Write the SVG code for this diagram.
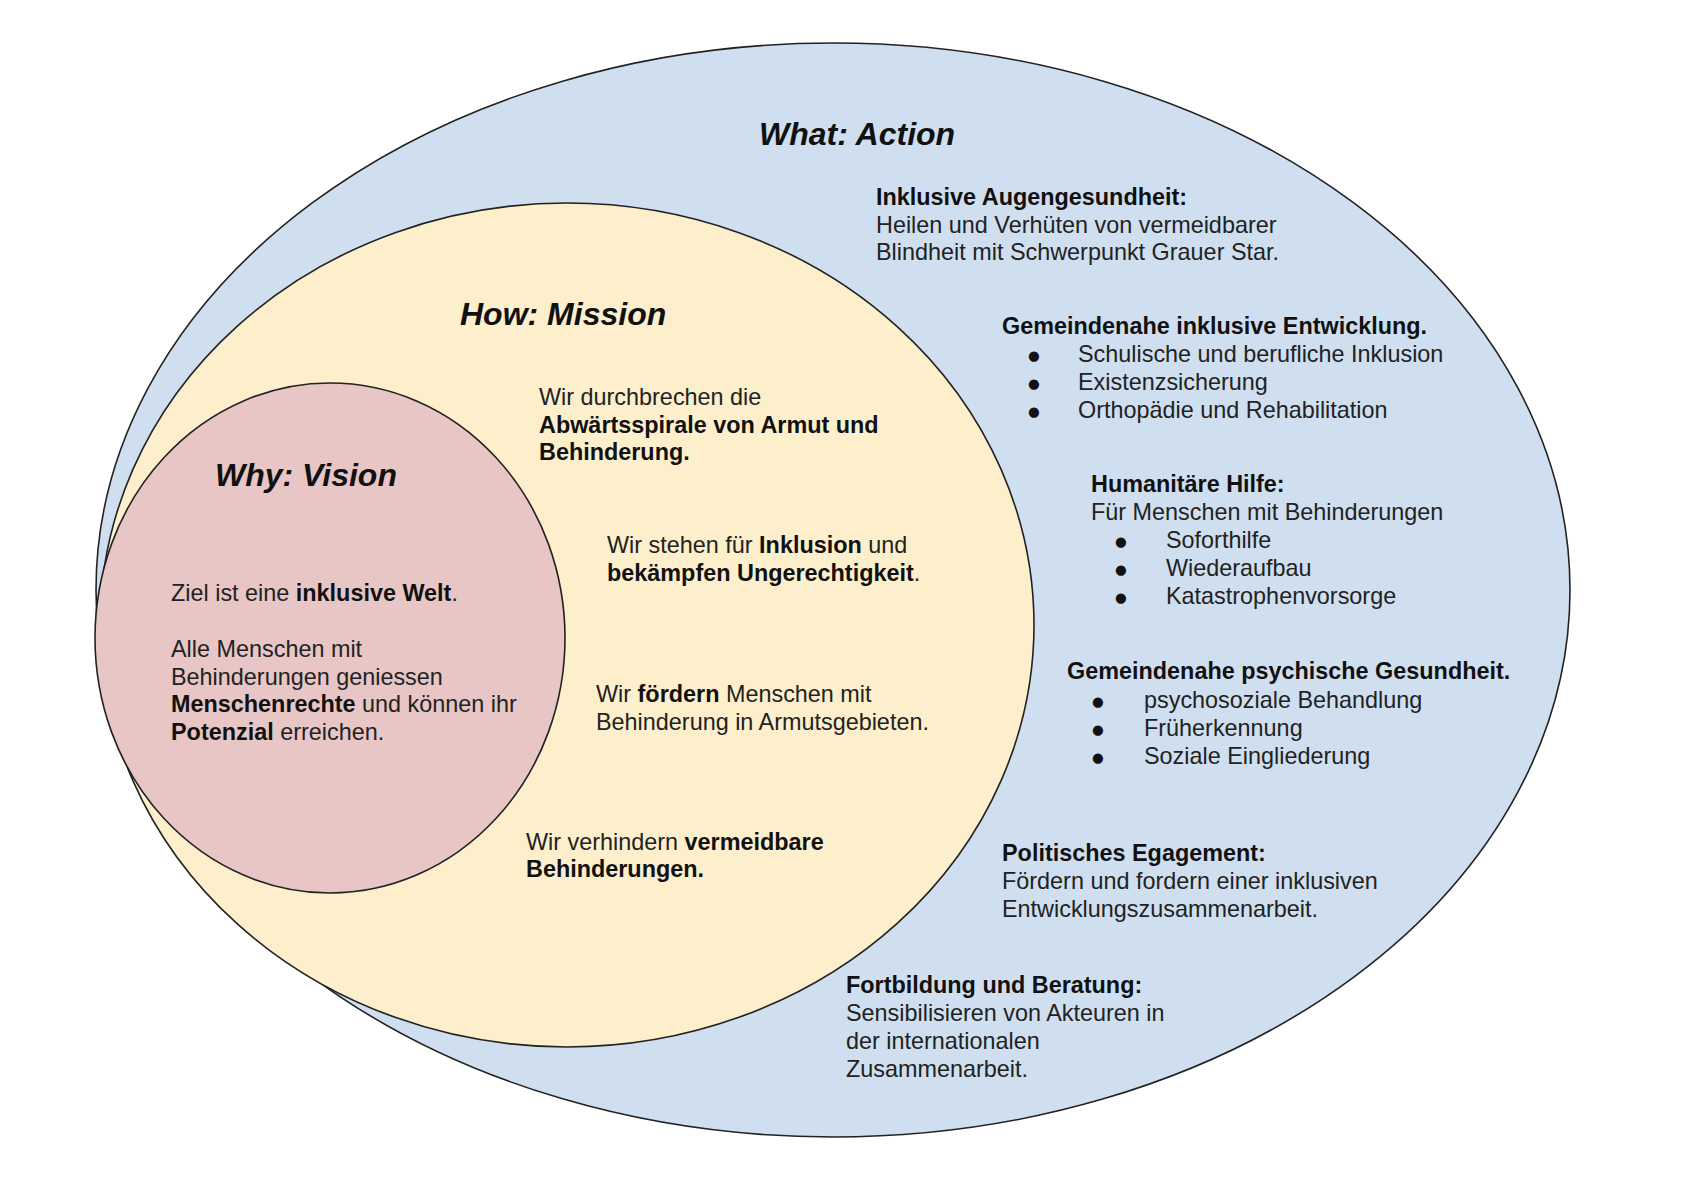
<svg xmlns="http://www.w3.org/2000/svg" width="1698" height="1194" viewBox="0 0 1698 1194">
<style>
  .shape { stroke: #222; stroke-width: 1.6; }
  .title { font-family: "Liberation Sans", Arial, sans-serif; font-size: 32px; font-weight: bold; font-style: italic; fill: #111; }
  .t { font-family: "Liberation Sans", Arial, sans-serif; font-size: 23.4px; fill: #222; }
  .b { font-weight: bold; fill: #111; }
  .bul { font-family: "DejaVu Sans", "Liberation Sans", sans-serif; font-size: 13.5px; fill: #111; text-anchor: middle; }
</style>
<rect x="0" y="0" width="1698" height="1194" fill="#ffffff"/>

<g id="what-action">
  <ellipse class="shape" cx="833" cy="590" rx="737" ry="547" fill="#cfdff0"/>
  <text class="title" x="759" y="145">What: Action</text>
  <text class="t">
    <tspan class="b" x="876" y="205">Inklusive Augengesundheit:</tspan>
    <tspan x="876" y="233">Heilen und Verhüten von vermeidbarer</tspan>
    <tspan x="876" y="260">Blindheit mit Schwerpunkt Grauer Star.</tspan>
  </text>
  <text class="t">
    <tspan class="b" x="1002" y="334">Gemeindenahe inklusive Entwicklung.</tspan>
    <tspan x="1078" y="362">Schulische und berufliche Inklusion</tspan>
    <tspan x="1078" y="390">Existenzsicherung</tspan>
    <tspan x="1078" y="418">Orthopädie und Rehabilitation</tspan>
  </text>
  <text class="bul"><tspan x="1034" y="360">●</tspan><tspan x="1034" y="388">●</tspan><tspan x="1034" y="416">●</tspan></text>
  <text class="t">
    <tspan class="b" x="1091" y="492">Humanitäre Hilfe:</tspan>
    <tspan x="1091" y="520">Für Menschen mit Behinderungen</tspan>
    <tspan x="1166" y="548">Soforthilfe</tspan>
    <tspan x="1166" y="576">Wiederaufbau</tspan>
    <tspan x="1166" y="604">Katastrophenvorsorge</tspan>
  </text>
  <text class="bul"><tspan x="1121" y="546">●</tspan><tspan x="1121" y="574">●</tspan><tspan x="1121" y="602">●</tspan></text>
  <text class="t">
    <tspan class="b" x="1067" y="679">Gemeindenahe psychische Gesundheit.</tspan>
    <tspan x="1144" y="708">psychosoziale Behandlung</tspan>
    <tspan x="1144" y="736">Früherkennung</tspan>
    <tspan x="1144" y="764">Soziale Eingliederung</tspan>
  </text>
  <text class="bul"><tspan x="1098" y="706">●</tspan><tspan x="1098" y="734">●</tspan><tspan x="1098" y="762">●</tspan></text>
  <text class="t">
    <tspan class="b" x="1002" y="861">Politisches Egagement:</tspan>
    <tspan x="1002" y="889">Fördern und fordern einer inklusiven</tspan>
    <tspan x="1002" y="917">Entwicklungszusammenarbeit.</tspan>
  </text>
  <text class="t">
    <tspan class="b" x="846" y="993">Fortbildung und Beratung:</tspan>
    <tspan x="846" y="1021">Sensibilisieren von Akteuren in</tspan>
    <tspan x="846" y="1049">der internationalen</tspan>
    <tspan x="846" y="1077">Zusammenarbeit.</tspan>
  </text>
</g>

<g id="how-mission">
  <ellipse class="shape" cx="567" cy="625" rx="467" ry="422" fill="#fdefcc"/>
  <text class="title" x="460" y="325">How: Mission</text>
  <text class="t">
    <tspan x="539" y="405">Wir durchbrechen die</tspan>
    <tspan class="b" x="539" y="433">Abwärtsspirale von Armut und</tspan>
    <tspan class="b" x="539" y="460">Behinderung.</tspan>
  </text>
  <text class="t">
    <tspan x="607" y="553">Wir stehen für <tspan class="b">Inklusion</tspan> und</tspan>
    <tspan x="607" y="581"><tspan class="b">bekämpfen Ungerechtigkeit</tspan>.</tspan>
  </text>
  <text class="t">
    <tspan x="596" y="702">Wir <tspan class="b">fördern</tspan> Menschen mit</tspan>
    <tspan x="596" y="730">Behinderung in Armutsgebieten.</tspan>
  </text>
  <text class="t">
    <tspan x="526" y="850">Wir verhindern <tspan class="b">vermeidbare</tspan></tspan>
    <tspan class="b" x="526" y="877">Behinderungen.</tspan>
  </text>
</g>

<g id="why-vision">
  <ellipse class="shape" cx="330" cy="638" rx="235" ry="255" fill="#e8c6c6"/>
  <text class="title" x="215" y="486">Why: Vision</text>
  <text class="t">
    <tspan x="171" y="601">Ziel ist eine <tspan class="b">inklusive Welt</tspan>.</tspan>
    <tspan x="171" y="657">Alle Menschen mit</tspan>
    <tspan x="171" y="685">Behinderungen geniessen</tspan>
    <tspan x="171" y="712"><tspan class="b">Menschenrechte</tspan> und können ihr</tspan>
    <tspan x="171" y="740"><tspan class="b">Potenzial</tspan> erreichen.</tspan>
  </text>
</g>
</svg>
